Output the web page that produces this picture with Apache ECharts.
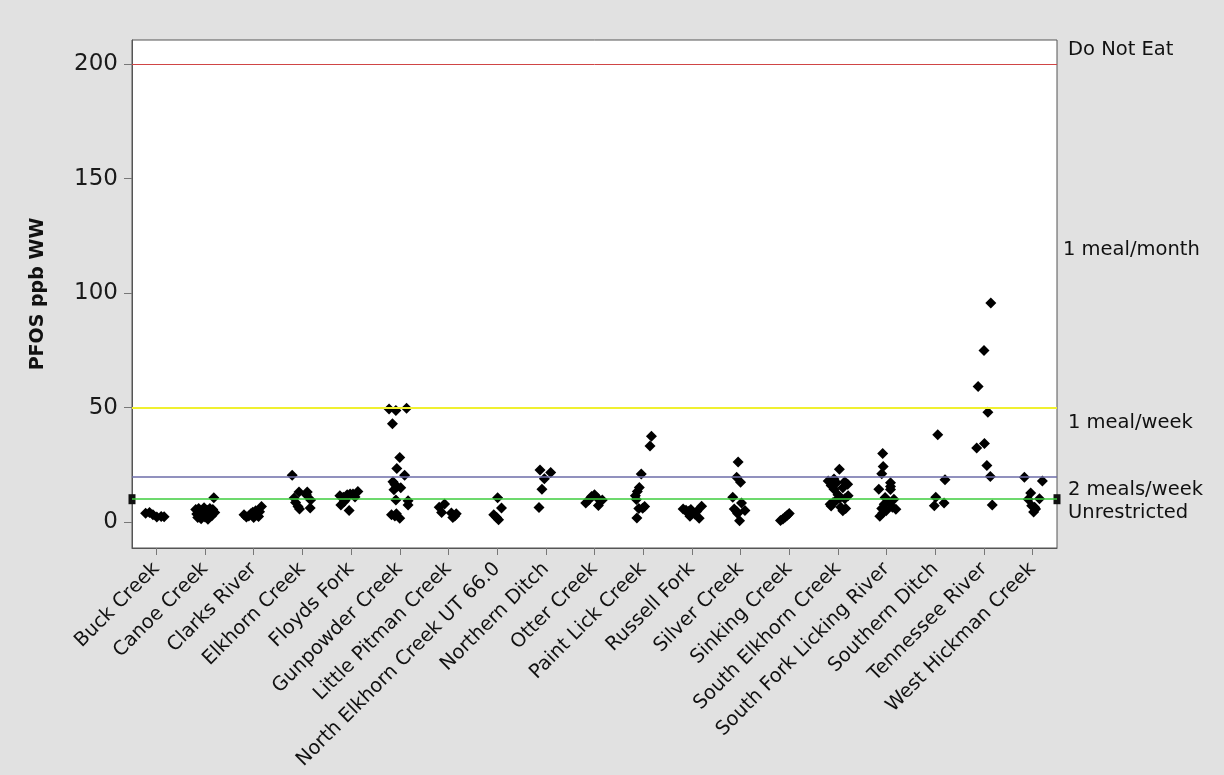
<!DOCTYPE html>
<html>
<head>
<meta charset="utf-8">
<script src="https://cdn.jsdelivr.net/npm/echarts@6/dist/echarts.min.js"></script>
<style>
html,body{margin:0;padding:0;background:#e1e1e1;}
#chart{width:1224px;height:775px;}
</style>
</head>
<body>
<div id="chart"></div>
<script>
const categories = ["Buck Creek","Canoe Creek","Clarks River","Elkhorn Creek","Floyds Fork","Gunpowder Creek","Little Pitman Creek","North Elkhorn Creek UT 66.0","Northern Ditch","Otter Creek","Paint Lick Creek","Russell Fork","Silver Creek","Sinking Creek","South Elkhorn Creek","South Fork Licking River","Southern Ditch","Tennessee River","West Hickman Creek"];

// PFOS values (ppb WW) per site
const buckValues = [3.9,4.2,3.2,2.2,2.5,2.3];
const canoeValues = [5.5,3.5,2.0,6.0,4.5,1.5,5.0,3.0,6.3,2.2,4.0,5.2,1.3,3.5,6.0,4.8,2.8,5.5,10.6,4.2];
const clarksValues = [3.2,2.2,2.7,3.6,4.3,2.0,5.0,3.0,2.4,6.8,4.5];
const elkhornValues = [20.5,13.1,13.1,10.5,9.7,8.6,6.8,5.7,6.2,11.9];
const floydsValues = [11.5,10.9,9.7,11.9,12.3,12.3,13.4,7.5,5.1,11.0,9.0];
const gunpowderValues = [49.4,48.7,49.7,42.9,28.2,23.4,20.5,17.6,16.4,15.5,14.1,9.7,9.3,7.5,3.2,3.6,1.7,2.7,15.0];
const littlePitmanValues = [6.5,7.9,4.2,4.0,2.7,2.0,3.6];
const northElkhornValues = [10.6,6.2,3.2,2.0,1.0];
const northernDitchValues = [22.8,21.7,18.9,14.4,6.4];
const otterValues = [8.3,9.7,11.2,11.9,10.5,7.3,9.7];
const paintLickValues = [37.5,33.2,21.0,15.1,13.4,11.5,9.9,5.9,6.8,6.1,1.8];
const russellValues = [5.7,5.2,4.8,5.5,4.2,3.5,2.6,4.6,6.9,1.7,4.0];
const silverValues = [26.2,19.6,17.4,10.9,8.3,5.7,4.6,5.1,0.6,3.8];
const sinkingValues = [0.7,1.4,2.2,3.0,3.8];
const southElkhornValues = [23.1,18.0,16.0,14.3,17.6,16.5,15.0,17.2,11.5,10.2,7.8,8.6,9.5,10.5,6.5,5.0,6.0,7.0,12.0,18.8];
const southForkValues = [30.0,24.3,21.1,17.2,15.6,14.2,14.4,10.7,10.0,7.8,8.5,6.5,5.6,6.0,2.6,5.0,4.0];
const southernDitchValues = [38.1,18.5,10.9,7.1,8.3];
const tennesseeValues = [95.7,74.9,59.2,48.0,34.3,32.4,24.7,19.9,7.5];
const westHickmanValues = [19.6,18.0,12.7,10.0,10.2,7.1,6.5,5.7,4.4];

// horizontal jitter of each point, as a fraction of one category width
const buckJitter = [-0.22,-0.14,-0.07,0.01,0.10,0.16];
const canoeJitter = [-0.19,-0.17,-0.15,-0.13,-0.1,-0.08,-0.06,-0.04,-0.02,0,0.02,0.04,0.06,0.08,0.1,0.12,0.14,0.16,0.18,0.2];
const clarksJitter = [-0.2,-0.15,-0.1,-0.06,-0.02,0,0.04,0.07,0.1,0.16,0.12];
const elkhornJitter = [-0.21,-0.07,0.10,-0.17,0.17,-0.14,-0.09,-0.06,0.16,0.08];
const floydsJitter = [-0.23,-0.16,-0.12,-0.08,-0.02,0.04,0.14,-0.21,-0.04,0.08,-0.14];
const gunpowderJitter = [-0.22,-0.08,0.14,-0.15,0,-0.06,0.10,-0.14,-0.10,-0.06,-0.12,-0.08,0.17,0.17,-0.17,-0.07,0,-0.10,0.02];
const littlePitmanJitter = [-0.19,-0.08,-0.14,0.06,0.13,0.09,0.16];
const northElkhornJitter = [0.01,0.09,-0.07,-0.01,0.03];
const northernDitchJitter = [-0.12,0.10,-0.03,-0.08,-0.14];
const otterJitter = [-0.18,-0.12,-0.06,0,0.06,0.08,0.16];
const paintLickJitter = [0.17,0.14,-0.04,-0.08,-0.12,-0.16,-0.14,-0.09,0.03,-0.01,-0.13];
const russellJitter = [-0.18,-0.12,-0.06,-0.02,0.03,0.06,-0.04,0.10,0.20,0.15,-0.08];
const silverJitter = [-0.05,-0.08,0,-0.16,0.02,-0.13,-0.08,0.09,-0.02,-0.06];
const sinkingJitter = [-0.18,-0.13,-0.08,-0.04,0];
const southElkhornJitter = [0.03,-0.2,-0.14,-0.08,0.14,0.2,0.1,-0.03,0.21,0.14,-0.16,-0.1,-0.03,0.04,0.06,0.1,0.16,-0.14,0,-0.08];
const southForkJitter = [-0.08,-0.07,-0.1,0.08,0.08,0.08,-0.16,-0.03,0.15,-0.05,0.04,0.12,0.19,-0.1,-0.14,-0.01,-0.08];
const southernDitchJitter = [0.05,0.2,0.01,-0.02,0.18];
const tennesseeJitter = [0.14,0,-0.12,0.08,0.01,-0.15,0.06,0.13,0.17];
const westHickmanJitter = [-0.17,0.2,-0.04,-0.09,0.14,-0.02,0.04,0.06,0.02];

const siteValues = [buckValues,canoeValues,clarksValues,elkhornValues,floydsValues,gunpowderValues,littlePitmanValues,northElkhornValues,northernDitchValues,otterValues,paintLickValues,russellValues,silverValues,sinkingValues,southElkhornValues,southForkValues,southernDitchValues,tennesseeValues,westHickmanValues];
const siteJitter = [buckJitter,canoeJitter,clarksJitter,elkhornJitter,floydsJitter,gunpowderJitter,littlePitmanJitter,northElkhornJitter,northernDitchJitter,otterJitter,paintLickJitter,russellJitter,silverJitter,sinkingJitter,southElkhornJitter,southForkJitter,southernDitchJitter,tennesseeJitter,westHickmanJitter];

const yTicks = [0,50,100,150,200];
const advisoryValues = [200,50,20,10];
const advisoryLabels = ["Do Not Eat","1 meal/month","1 meal/week","2 meals/week","Unrestricted"];
const referenceMark = 10;

const points = [];
siteValues.forEach((vals, i) => {
  vals.forEach((v, k) => points.push([i + siteJitter[i][k], v]));
});

const chart = echarts.init(document.getElementById('chart'));
const FONT = 'DejaVu Sans';
const lineColors = ['#d04545', '#f0f030', '#6c6ca8', '#3ccc3c'];
const lineWidths = [1, 2, 1.5, 1.5];

chart.setOption({
  backgroundColor: '#e1e1e1',
  animation: false,
  grid: {left: 132, right: 167, top: 40, bottom: 227, show: true, backgroundColor: '#ffffff', borderColor: '#555555', borderWidth: 1},
  xAxis: [
    {
      type: 'category', data: categories, boundaryGap: true,
      axisLine: {show: true, onZero: false, lineStyle: {color: '#555555'}},
      axisTick: {show: true, alignWithLabel: true, length: 7, lineStyle: {color: '#777777'}},
      axisLabel: {rotate: 45, fontFamily: FONT, fontSize: 19.5, color: '#111111', margin: 18, interval: 0},
      splitLine: {show: false}
    },
    {type: 'value', min: -0.5, max: 18.5, show: false, axisLine: {onZero: false}}
  ],
  yAxis: {
    type: 'value', min: -11.3, max: 210.5,
    name: 'PFOS ppb WW', nameLocation: 'middle', nameGap: 84,
    nameTextStyle: {fontFamily: FONT, fontSize: 19, fontWeight: 'bold', color: '#111111'},
    axisLine: {show: true, onZero: false, lineStyle: {color: '#555555'}},
    axisTick: {show: true, length: 8, customValues: yTicks, lineStyle: {color: '#777777'}},
    axisLabel: {customValues: yTicks, fontFamily: FONT, fontSize: 23, color: '#1a1a1a', margin: 14},
    splitLine: {show: false}
  },
  series: [
    {
      type: 'scatter', xAxisIndex: 1, data: points,
      symbol: 'diamond', symbolSize: 11,
      itemStyle: {color: '#000000', opacity: 1},
      markLine: {
        silent: true, symbol: 'none', label: {show: false},
        data: advisoryValues.map((v, i) => ({yAxis: v, lineStyle: {color: lineColors[i], width: lineWidths[i], type: 'solid', opacity: 1}}))
      },
      z: 3
    },
    {
      type: 'scatter', xAxisIndex: 1, clip: false,
      data: [[-0.5, referenceMark], [18.5, referenceMark]],
      symbol: 'rect', symbolSize: [7, 10],
      itemStyle: {color: '#111111', opacity: 1}, z: 4
    }
  ],
  graphic: [
    {type: 'text', left: 1068, top: 40, style: {text: advisoryLabels[0], font: '19.5px ' + FONT, fill: '#111'}},
    {type: 'text', left: 1063, top: 240, style: {text: advisoryLabels[1], font: '19.5px ' + FONT, fill: '#111'}},
    {type: 'text', left: 1068, top: 413, style: {text: advisoryLabels[2], font: '19.5px ' + FONT, fill: '#111'}},
    {type: 'text', left: 1068, top: 480, style: {text: advisoryLabels[3], font: '19.5px ' + FONT, fill: '#111'}},
    {type: 'text', left: 1068, top: 503, style: {text: advisoryLabels[4], font: '19.5px ' + FONT, fill: '#111'}}
  ]
});
</script>
</body>
</html>
